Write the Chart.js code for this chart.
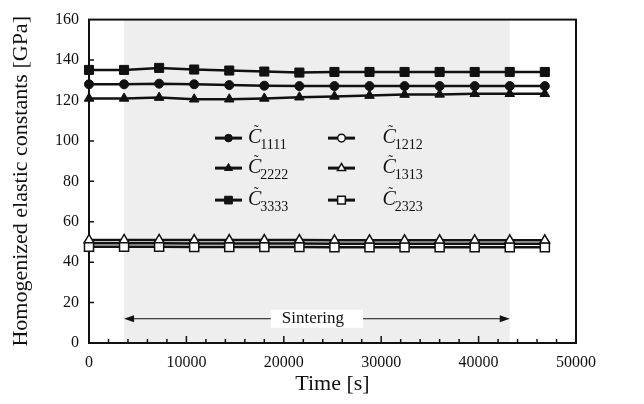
<!DOCTYPE html>
<html>
<head>
<meta charset="utf-8">
<script src="https://cdn.jsdelivr.net/npm/chart.js@4/dist/chart.umd.min.js"></script>
<style>
  html, body { margin: 0; padding: 0; background: #ffffff; }
  #wrap { width: 644px; height: 404px; }
</style>
</head>
<body>
<div id="wrap"><canvas id="c" width="644" height="404"></canvas></div>
<script>
// Sampling times [s]
const timeSeconds = [0, 3600, 7200, 10800, 14400, 18000, 21600, 25200, 28800, 32400, 36000, 39600, 43200, 46800];

// Homogenized elastic constants [GPa]
const c1111 = [128.0, 128.0, 128.3, 128.0, 127.6, 127.3, 127.1, 127.1, 127.1, 127.1, 127.1, 127.1, 127.1, 127.1];
const c2222 = [121.0, 121.0, 121.4, 120.6, 120.6, 121.0, 121.6, 122.0, 122.4, 122.9, 123.0, 123.3, 123.3, 123.3];
const c3333 = [135.1, 135.1, 136.1, 135.3, 134.8, 134.3, 133.8, 134.1, 134.1, 134.1, 134.1, 134.1, 134.1, 134.1];
const c1212 = [49.3, 49.3, 49.3, 49.2, 49.2, 49.2, 49.2, 49.1, 49.1, 49.1, 49.1, 49.1, 49.1, 49.1];
const c1313 = [51.0, 51.0, 51.0, 50.9, 50.9, 50.9, 50.9, 50.8, 50.8, 50.8, 50.8, 50.8, 50.8, 50.8];
const c2323 = [47.6, 47.6, 47.6, 47.5, 47.5, 47.5, 47.5, 47.4, 47.4, 47.4, 47.4, 47.4, 47.4, 47.4];

// Component subscripts shown in the legend
const componentNames = ['1111', '2222', '3333', '1212', '1313', '2323'];

// Sintering window [s] and the level of its annotation arrow [GPa]
const sinteringWindow = [3600, 43200];
const sinteringArrowLevel = 12;
const sinteringLabel = 'Sintering';

// Axis ranges and tick steps
const xRange = [0, 50000];
const xMajorStep = 10000;
const xMinorStep = 2000;
const yRange = [0, 160];
const yMajorStep = 20;

const INK = '#111111';
const SERIF = '"Liberation Serif", "Times New Roman", serif';

function series(values, style, open, radius, order) {
  return {
    data: timeSeconds.map((t, i) => ({ x: t, y: values[i] })),
    borderColor: INK,
    borderWidth: 2.5,
    pointStyle: style,
    pointRadius: radius,
    pointHoverRadius: radius,
    pointBackgroundColor: open ? '#ffffff' : INK,
    pointBorderColor: INK,
    pointBorderWidth: open ? 1.5 : 1,
    tension: 0,
    fill: false,
    clip: false,
    order: order
  };
}

const datasets = [
  series(c1111, 'circle', false, 4.5, 1),
  series(c2222, 'triangle', false, 5.5, 1),
  series(c3333, 'rect', false, 6.4, 1),
  series(c1212, 'circle', true, 4.5, 3),
  series(c1313, 'triangle', true, 5.5, 2),
  series(c2323, 'rect', true, 6.4, 2)
];
datasets.forEach((d, i) => { d.label = 'C\u0303' + componentNames[i]; });

// Grey band for the sintering period, frame and inward ticks, drawn behind the series
const bandPlugin = {
  id: 'sinteringBand',
  beforeDatasetsDraw(chart) {
    const { ctx, chartArea: a, scales: { x, y } } = chart;
    const x0 = x.getPixelForValue(sinteringWindow[0]);
    const x1 = x.getPixelForValue(sinteringWindow[1]);
    ctx.save();
    ctx.fillStyle = '#eeeeee';
    ctx.fillRect(x0, a.top, x1 - x0, a.bottom - a.top);

    ctx.strokeStyle = INK;
    ctx.lineWidth = 2;
    ctx.strokeRect(a.left, a.top, a.right - a.left, a.bottom - a.top);
    ctx.lineWidth = 1.5;
    ctx.beginPath();
    for (let v = xRange[0] + xMinorStep; v < xRange[1]; v += xMinorStep) {
      const px = x.getPixelForValue(v);
      const len = (v % xMajorStep === 0) ? 7 : 4;
      ctx.moveTo(px, a.bottom);
      ctx.lineTo(px, a.bottom - len);
    }
    for (let v = yRange[0] + yMajorStep; v < yRange[1]; v += yMajorStep) {
      const py = y.getPixelForValue(v);
      ctx.moveTo(a.left, py);
      ctx.lineTo(a.left + 5, py);
    }
    ctx.stroke();
    ctx.restore();
  }
};

function drawMarker(ctx, style, cx, cy, r, open) {
  ctx.save();
  ctx.fillStyle = open ? '#ffffff' : INK;
  ctx.strokeStyle = INK;
  ctx.lineWidth = open ? 1.5 : 1;
  ctx.beginPath();
  if (style === 'circle') {
    ctx.arc(cx, cy, r, 0, Math.PI * 2);
  } else if (style === 'triangle') {
    ctx.moveTo(cx, cy - r);
    ctx.lineTo(cx + r * 0.866, cy + r * 0.5);
    ctx.lineTo(cx - r * 0.866, cy + r * 0.5);
    ctx.closePath();
  } else {
    const s = r * Math.SQRT1_2;
    ctx.rect(cx - s, cy - s, 2 * s, 2 * s);
  }
  ctx.fill();
  ctx.stroke();
  ctx.restore();
}

// Annotation arrow and two-column legend
const overlayPlugin = {
  id: 'overlay',
  afterDatasetsDraw(chart) {
    const { ctx, chartArea: a, scales: { x, y } } = chart;
    ctx.save();

    // double-headed arrow across the sintering window
    const x0 = x.getPixelForValue(sinteringWindow[0]);
    const x1 = x.getPixelForValue(sinteringWindow[1]);
    const ay = y.getPixelForValue(sinteringArrowLevel);
    ctx.strokeStyle = INK;
    ctx.fillStyle = INK;
    ctx.lineWidth = 1;
    ctx.beginPath();
    ctx.moveTo(x0 + 6, ay);
    ctx.lineTo(x1 - 6, ay);
    ctx.stroke();
    ctx.beginPath();
    ctx.moveTo(x0, ay); ctx.lineTo(x0 + 10, ay - 3.5); ctx.lineTo(x0 + 10, ay + 3.5); ctx.closePath();
    ctx.moveTo(x1, ay); ctx.lineTo(x1 - 10, ay - 3.5); ctx.lineTo(x1 - 10, ay + 3.5); ctx.closePath();
    ctx.fill();

    ctx.font = '17px ' + SERIF;
    const tw = ctx.measureText(sinteringLabel).width;
    const mid = (x0 + x1) / 2;
    const bw = tw + 30;
    ctx.fillStyle = '#ffffff';
    ctx.fillRect(mid - bw / 2, ay - 9, bw, 18);
    ctx.fillStyle = INK;
    ctx.textAlign = 'center';
    ctx.textBaseline = 'middle';
    ctx.fillText(sinteringLabel, mid - 4, ay);

    // legend: two columns of three
    const colLine = [a.left + 139.5, a.left + 252.5];
    const colText = [a.left + 159, a.left + 293.5];
    const rowY = [a.top + 118.5, a.top + 148.5, a.top + 180.5];
    chart.data.datasets.forEach((d, i) => {
      const col = Math.floor(i / 3), row = i % 3;
      const lx = colLine[col], ly = rowY[row];
      ctx.strokeStyle = INK;
      ctx.lineWidth = 3;
      ctx.beginPath();
      ctx.moveTo(lx - 13.5, ly);
      ctx.lineTo(lx + 13.5, ly);
      ctx.stroke();
      const open = d.pointBackgroundColor === '#ffffff';
      drawMarker(ctx, d.pointStyle, lx, ly, d.pointRadius * 0.85, open);

      const tx = colText[col];
      ctx.fillStyle = INK;
      ctx.textAlign = 'left';
      ctx.textBaseline = 'alphabetic';
      ctx.font = 'italic 20px ' + SERIF;
      ctx.fillText('C', tx, ly + 5);
      const cw = ctx.measureText('C').width;
      ctx.font = '15px ' + SERIF;
      ctx.textAlign = 'center';
      ctx.fillText('\u02DC', tx + cw * 0.62, ly - 3);
      ctx.textAlign = 'left';
      ctx.font = '14px ' + SERIF;
      ctx.fillText(componentNames[i], tx + cw - 1, ly + 11);
    });
    ctx.restore();
  }
};

new Chart(document.getElementById('c'), {
  type: 'line',
  data: { datasets },
  options: {
    responsive: false,
    devicePixelRatio: 1,
    animation: false,
    events: [],
    layout: { padding: { left: 0, right: 68, top: 17, bottom: 0 } },
    plugins: { legend: { display: false }, tooltip: { enabled: false } },
    scales: {
      x: {
        type: 'linear',
        min: xRange[0], max: xRange[1],
        grid: { display: false, drawTicks: false },
        border: { display: false },
        ticks: { stepSize: xMajorStep, color: INK, padding: 10, maxRotation: 0,
                 callback: v => String(v),
                 font: { family: SERIF, size: 16 } },
        title: { display: true, text: 'Time [s]', color: INK,
                 font: { family: SERIF, size: 22 }, padding: { top: 0, bottom: 7 } },
        afterFit(s) { s.height = 61; }
      },
      y: {
        min: yRange[0], max: yRange[1],
        grid: { display: false, drawTicks: false },
        border: { display: false },
        ticks: { stepSize: yMajorStep, color: INK, padding: 10,
                 callback: v => String(v),
                 font: { family: SERIF, size: 16 } },
        title: { display: true, text: 'Homogenized elastic constants [GPa]', color: INK,
                 font: { family: SERIF, size: 22 }, padding: { top: 8, bottom: 0 } },
        afterFit(s) { s.width = 89; }
      }
    }
  },
  plugins: [bandPlugin, overlayPlugin]
});
</script>
</body>
</html>
